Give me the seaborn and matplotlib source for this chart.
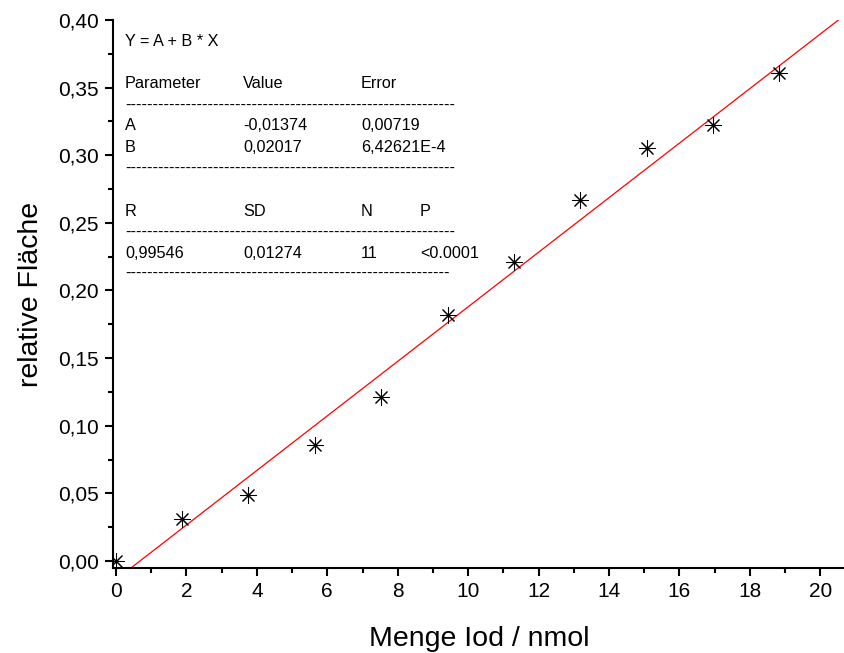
import numpy as np
import pandas as pd
import matplotlib
matplotlib.use("Agg")
import matplotlib.pyplot as plt
import seaborn as sns
from matplotlib.ticker import MultipleLocator, FuncFormatter

# Measured calibration points
menge_iod = [0.0, 1.88, 3.76, 5.65, 7.53, 9.42, 11.30, 13.18, 15.07, 16.95, 18.84]
rel_flaeche = [0.000, 0.031, 0.049, 0.086, 0.121, 0.182, 0.221, 0.267, 0.305, 0.322, 0.361]

# Linear regression results
fit_A = -0.01374
fit_B = 0.02017
fit_A_err = "0,00719"
fit_B_err = "6,42621E-4"
fit_R = "0,99546"
fit_SD = "0,01274"
fit_N = "11"
fit_P = "<0.0001"

sns.set_theme(style="ticks")
plt.rcParams["font.family"] = ["Liberation Sans", "DejaVu Sans"]

fig = plt.figure(figsize=(8.45, 6.53), dpi=100)
W, H = 845, 653
left, right, top, bottom = 113, 845, 20, 568
ax = fig.add_axes([left / W, 1 - bottom / H, (right - left) / W, (bottom - top) / H])

df = pd.DataFrame({"x": menge_iod, "y": rel_flaeche})

xlim = (-0.085, 20.7)
ylim = (-0.0052, 0.40)
xfit = np.array(xlim)
fit_df = pd.DataFrame({"x": xfit, "y": fit_A + fit_B * xfit})
sns.lineplot(data=fit_df, x="x", y="y", ax=ax, color="#ff0000", linewidth=0.9)

sns.scatterplot(data=df, x="x", y="y", ax=ax, marker=(8, 2, 0), s=130,
                color="black", linewidth=0.75, zorder=3)

ax.set_xlim(*xlim)
ax.set_ylim(*ylim)

ax.xaxis.set_major_locator(MultipleLocator(2))
ax.xaxis.set_minor_locator(MultipleLocator(1))
ax.yaxis.set_major_locator(MultipleLocator(0.05))
ax.yaxis.set_minor_locator(MultipleLocator(0.025))
ax.yaxis.set_major_formatter(FuncFormatter(lambda v, p: f"{v:.2f}".replace(".", ",")))
ax.xaxis.set_major_formatter(FuncFormatter(lambda v, p: f"{v:.0f}"))

for s in ["top", "right"]:
    ax.spines[s].set_visible(False)
for s in ["left", "bottom"]:
    ax.spines[s].set_linewidth(1.5)
    ax.spines[s].set_color("black")

ax.tick_params(which="major", direction="out", length=6, width=1.5, labelsize=15,
               colors="black", pad=4)
ax.tick_params(which="minor", direction="out", length=3.5, width=1.5, colors="black")

ax.set_xlabel("Menge Iod / nmol", fontsize=20.5, labelpad=18, color="black")
ax.set_ylabel("relative Fläche", fontsize=20.5, labelpad=10, color="black")


def place(px, py, s):
    ax.text((px - left) / (right - left), (bottom - py) / (bottom - top), s,
            transform=ax.transAxes, fontsize=11.7, ha="left", va="center",
            color="black")


dashes = "-" * 60
place(125, 42, "Y = A + B * X")
place(125, 83, "Parameter")
place(243, 83, "Value")
place(361, 83, "Error")
place(125, 105, dashes)
place(125, 126, "A")
place(243, 126, f"{fit_A:.5f}".replace(".", ","))
place(361, 126, fit_A_err)
place(125, 147, "B")
place(243, 147, f"{fit_B:.5f}".replace(".", ","))
place(361, 147, fit_B_err)
place(125, 168, dashes)
place(125, 211, "R")
place(243, 211, "SD")
place(361, 211, "N")
place(420, 211, "P")
place(125, 232, dashes)
place(125, 253, fit_R)
place(243, 253, fit_SD)
place(361, 253, fit_N)
place(420, 253, fit_P)
place(125, 273, "-" * 59)

fig.savefig("out.png", dpi=100)
